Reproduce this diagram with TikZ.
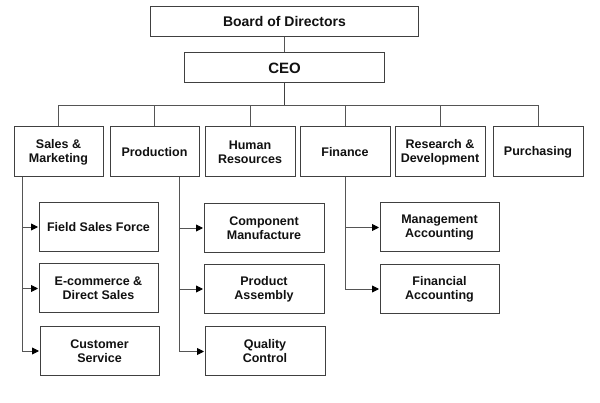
\documentclass[tikz,border=0pt]{standalone}
\usepackage{fontspec}
\setmainfont{Liberation Sans}
\usetikzlibrary{arrows.meta}
\definecolor{boxline}{HTML}{404040}
\definecolor{conline}{HTML}{555555}
\definecolor{txt}{HTML}{111111}
\tikzset{
  orgbox/.style={draw=boxline, line width=1pt, fill=white, text=txt, align=center, inner sep=1pt,
    font=\fontsize{12.5}{14}\selectfont\bfseries},
  dept/.style={orgbox, minimum width=89pt, minimum height=50pt},
  sub/.style={orgbox, minimum width=119pt, minimum height=49pt},
  conn/.style={draw=conline, line width=0.9pt},
  arr/.style={conn, -{Triangle[length=7pt,width=7pt,fill=black,color=black]}, shorten >=0.5pt}
}
\begin{document}
\begin{tikzpicture}[x=1pt,y=-1pt]
\useasboundingbox (0,0) rectangle (600,403);
\fill[white] (0,0) rectangle (600,403);
% top
\node[orgbox, minimum width=268pt, minimum height=30pt, font=\fontsize{14}{16}\selectfont\bfseries] (board) at (284.5,22) {Board of Directors};
\node[orgbox, minimum width=200pt, minimum height=30pt, font=\fontsize{15}{17}\selectfont\bfseries] (ceo) at (284.5,68) {CEO};
% departments
\node[dept] (sm) at (58.5,152) {Sales \&\\Marketing};
\node[dept] (prod) at (154.5,152) {Production};
\node[dept, minimum width=90pt] (hr) at (250,152) {Human\\Resources};
\node[dept, minimum width=90pt] (fin) at (345,152) {Finance};
\node[dept, minimum width=90pt] (rd) at (440,152) {Research \&\\Development};
\node[dept, minimum width=90pt] (pur) at (538,152) {Purchasing};
% sub units
\node[sub] (fsf) at (98.5,227) {Field Sales Force};
\node[sub] (ecom) at (98.5,288.5) {E-commerce \&\\Direct Sales};
\node[sub] (cs) at (99.5,351) {Customer\\Service};
\node[sub, minimum width=120pt] (cm) at (264,228) {Component\\Manufacture};
\node[sub, minimum width=120pt] (pa) at (264,289) {Product\\Assembly};
\node[sub, minimum width=120pt] (qc) at (265,351.5) {Quality\\Control};
\node[sub] (ma) at (439.5,227.5) {Management\\Accounting};
\node[sub] (fa) at (439.5,289) {Financial\\Accounting};
% coordinates
\coordinate (bus) at (284.5,105);
\coordinate (smx) at (22,177);
\coordinate (prx) at (179,177);
\coordinate (fix) at (345,177);
% connectors
\draw[conn] (board) -- (ceo);
\draw[conn, line width=1.2pt, draw=boxline] (ceo) -- (bus);
\draw[conn] (sm.north) -- (sm.north |- bus) -- (pur.north |- bus) -- (pur.north);
\draw[conn] (prod.north) -- (prod.north |- bus);
\draw[conn] (hr.north) -- (hr.north |- bus);
\draw[conn] (fin.north) -- (fin.north |- bus);
\draw[conn] (rd.north) -- (rd.north |- bus);
\draw[arr] (smx) |- (fsf.west);
\draw[arr] (smx) |- (ecom.west);
\draw[arr] (smx) |- (cs.west);
\draw[arr] (prx) |- (cm.west);
\draw[arr] (prx) |- (pa.west);
\draw[arr] (prx) |- (qc.west);
\draw[arr] (fix) |- (ma.west);
\draw[arr] (fix) |- (fa.west);
\end{tikzpicture}
\end{document}
